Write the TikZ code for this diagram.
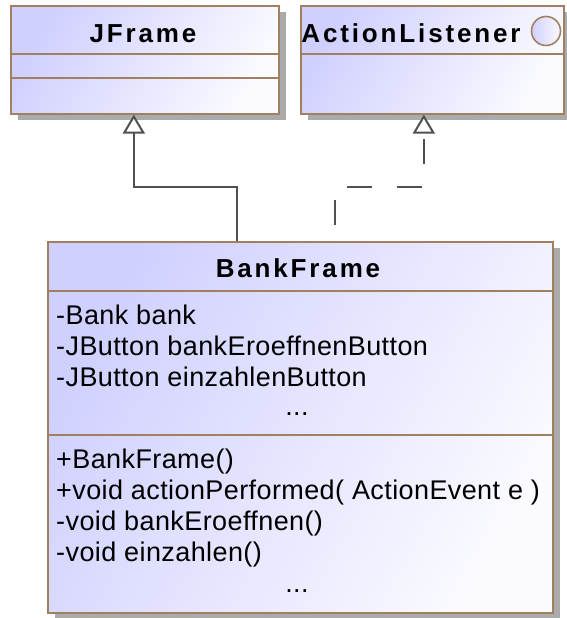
\documentclass[tikz,border=0pt]{standalone}
\usepackage{fontspec}
\setmainfont{Liberation Sans}
\newfontfamily\umlfont[LetterSpace=1.5]{Liberation Sans}
\newfontfamily\umlheadfont[LetterSpace=11]{Liberation Sans}
\usetikzlibrary{arrows.meta,calc,shadows,positioning}
\definecolor{umlborder}{RGB}{160,128,96}
\definecolor{umlfill}{RGB}{208,208,255}
\definecolor{umlfade}{RGB}{250,250,255}
\definecolor{umlline}{RGB}{80,80,80}

\begin{document}
\begin{tikzpicture}[x=1pt, y=-1pt,
	classbox/.style = {draw=umlborder, line width=1.6pt, inner sep=0pt, anchor=north west, left color=umlfill, right color=umlfade, shading angle=60, drop shadow={shadow xshift=7pt, shadow yshift=-6pt, fill=black!33, opacity=1}},
	sepline/.style = {draw=umlborder, line width=1.6pt},
	headtext/.style = {anchor=base, inner sep=0pt, font=\umlheadfont\bfseries\fontsize{26}{31}\selectfont},
	membertext/.style = {anchor=base west, inner sep=0pt, font=\umlfont\fontsize{27}{31}\selectfont},
	dots/.style = {anchor=base, inner sep=0pt, font=\umlfont\fontsize{27}{31}\selectfont},
	inherit/.style = {draw=umlline, line width=2pt, -{Triangle[open, width=22pt, length=19pt, fill=white]}},
	realize/.style = {inherit, dash pattern=on 25pt off 25pt, dash phase=34pt}]
	\useasboundingbox (0,0) rectangle (567,618);

	% classes
	\node[classbox, minimum width=268pt, minimum height=108pt] (jframe) at (10,5) {};
	\node[classbox, minimum width=263pt, minimum height=108pt] (alistener) at (300,5) {};
	\node[classbox, minimum width=505pt, minimum height=371pt] (bankframe) at (47,241) {};

	% compartments
	\draw[sepline] ($(jframe.north west)+(0,49)$) -- ($(jframe.north east)+(0,49)$);
	\draw[sepline] ($(jframe.north west)+(0,73)$) -- ($(jframe.north east)+(0,73)$);
	\draw[sepline] ($(alistener.north west)+(0,49)$) -- ($(alistener.north east)+(0,49)$);
	\draw[sepline] ($(bankframe.north west)+(0,50)$) -- ($(bankframe.north east)+(0,50)$);
	\draw[sepline] ($(bankframe.north west)+(0,194)$) -- ($(bankframe.north east)+(0,194)$);

	% names
	\node[headtext] (jframename) at (143,43) {JFrame};
	\node[headtext] (alistenername) at (411,43) {ActionListener};
	\node[draw=umlborder, line width=1.6pt, circle, minimum size=29pt, inner sep=0pt, left color=umlfill, right color=umlfade] (iface) at (546,31) {};
	\node[headtext] (bankframename) at (298,277) {BankFrame};

	% members
	\foreach \txt [count=\i] in {-Bank bank, -JButton bankEroeffnenButton, -JButton einzahlenButton}
		\node[membertext] (attr\i) at (56,293+31*\i) {\txt};
	\node[dots] (attrmore) at (297,415) {...};
	\foreach \txt [count=\i] in {+BankFrame(), {+void actionPerformed( ActionEvent e )}, -void bankEroeffnen(), -void einzahlen()}
		\node[membertext] (op\i) at (56,437+31*\i) {\txt};
	\node[dots] (opmore) at (297,592) {...};

	% relations
	\coordinate (genstart) at ($(bankframe.north west)+(190,0)$);
	\coordinate (realstart) at ($(bankframe.north west)+(288,0)$);
	\draw[inherit] (genstart) -- ++(0,-54) -| ([xshift=-11pt]jframe.south);
	\draw[realize] (realstart) -- ++(0,-54) -| ([xshift=-8.5pt]alistener.south);
\end{tikzpicture}
\end{document}
